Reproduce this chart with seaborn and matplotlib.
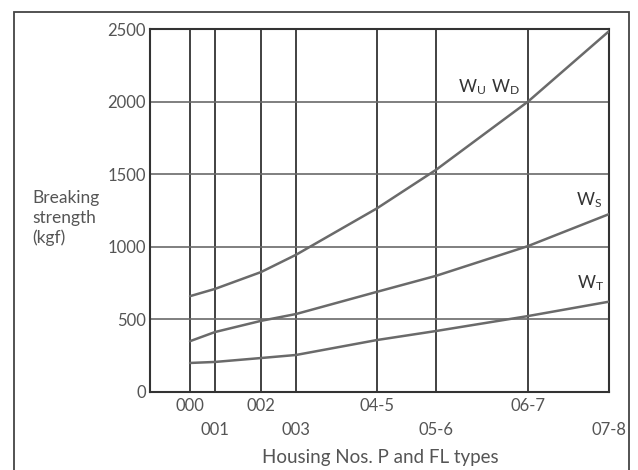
import pandas as pd
import matplotlib.pyplot as plt
from matplotlib.patches import Rectangle
import seaborn as sns

# housing numbers and their spacing along the x axis
housings = ['000', '001', '002', '003', '04-5', '05-6', '06-7', '07-8']
housing_pos = [40, 65, 111, 146, 227, 286, 378, 459]

# breaking strength (kgf)
w_ud = [660, 710, 826, 945, 1265, 1530, 2000, 2485]
w_s = [350, 413, 490, 537, 690, 800, 1005, 1225]
w_t = [200, 207, 234, 255, 358, 420, 523, 622]

sns.set_style('white')
plt.rcParams['font.family'] = ['Lato', 'DejaVu Sans']
plt.rcParams['mathtext.fontset'] = 'custom'
plt.rcParams['mathtext.rm'] = 'Lato'

grey = '#555555'
dark = '#333333'

df = pd.DataFrame({'pos': housing_pos * 3,
                   'kgf': w_ud + w_s + w_t,
                   'curve': ['WuWd'] * 8 + ['Ws'] * 8 + ['Wt'] * 8})

fig = plt.figure(figsize=(6.38, 4.70), dpi=100)
ax = fig.add_axes([150 / 638, 78 / 470, 459 / 638, 363 / 470])

sns.lineplot(data=df, x='pos', y='kgf', units='curve', estimator=None,
             color='#6a6a6a', lw=1.8, ax=ax, zorder=3)

ax.set_xlim(0, 459)
ax.set_ylim(0, 2500)
ax.set_yticks([0, 500, 1000, 1500, 2000, 2500])
ax.set_xticks(housing_pos[0::2])
ax.set_xticklabels(housings[0::2])
ax.set_xticks(housing_pos[1::2], minor=True)
ax.set_xticklabels(housings[1::2], minor=True)

ax.grid(True, axis='y', color='#6a6a6a', lw=1.2)
ax.grid(True, axis='x', which='both', color=dark, lw=1.3)
for s in ax.spines.values():
    s.set_color(dark)
    s.set_linewidth(1.5)

ax.tick_params(axis='y', length=0, pad=3, labelsize=12, labelcolor=grey)
ax.tick_params(axis='x', which='major', length=0, pad=4.5, labelsize=12, labelcolor=grey)
ax.tick_params(axis='x', which='minor', length=0, pad=21.5, labelsize=12, labelcolor=grey)
ax.set_xlabel('')
ax.set_ylabel('')

# curve labels
ax.text(339, 2035, r'$\mathregular{W_U\ W_D}$', fontsize=12.5, color=dark,
        ha='center', va='bottom')
ax.text(439, 1255, r'$\mathregular{W_S}$', fontsize=12.5, color=dark, ha='center', va='bottom')
ax.text(441, 680, r'$\mathregular{W_T}$', fontsize=12.5, color=dark, ha='center', va='bottom')

fig.text(32 / 638, 1 - 218 / 470, 'Breaking\nstrength\n(kgf)', ha='left', va='center',
         fontsize=12.5, color=grey, linespacing=1.25)
fig.text(380 / 638, 1 - 457 / 470, 'Housing Nos. P and FL types', ha='center', va='center',
         fontsize=13.5, color=grey)

# outer frame
fig.patches.append(Rectangle((14 / 638, -0.05), 615 / 638, 1.05 - 12 / 470,
                             transform=fig.transFigure, fill=False,
                             edgecolor='#444444', lw=1.3))

fig.savefig('out.png', dpi=100)
